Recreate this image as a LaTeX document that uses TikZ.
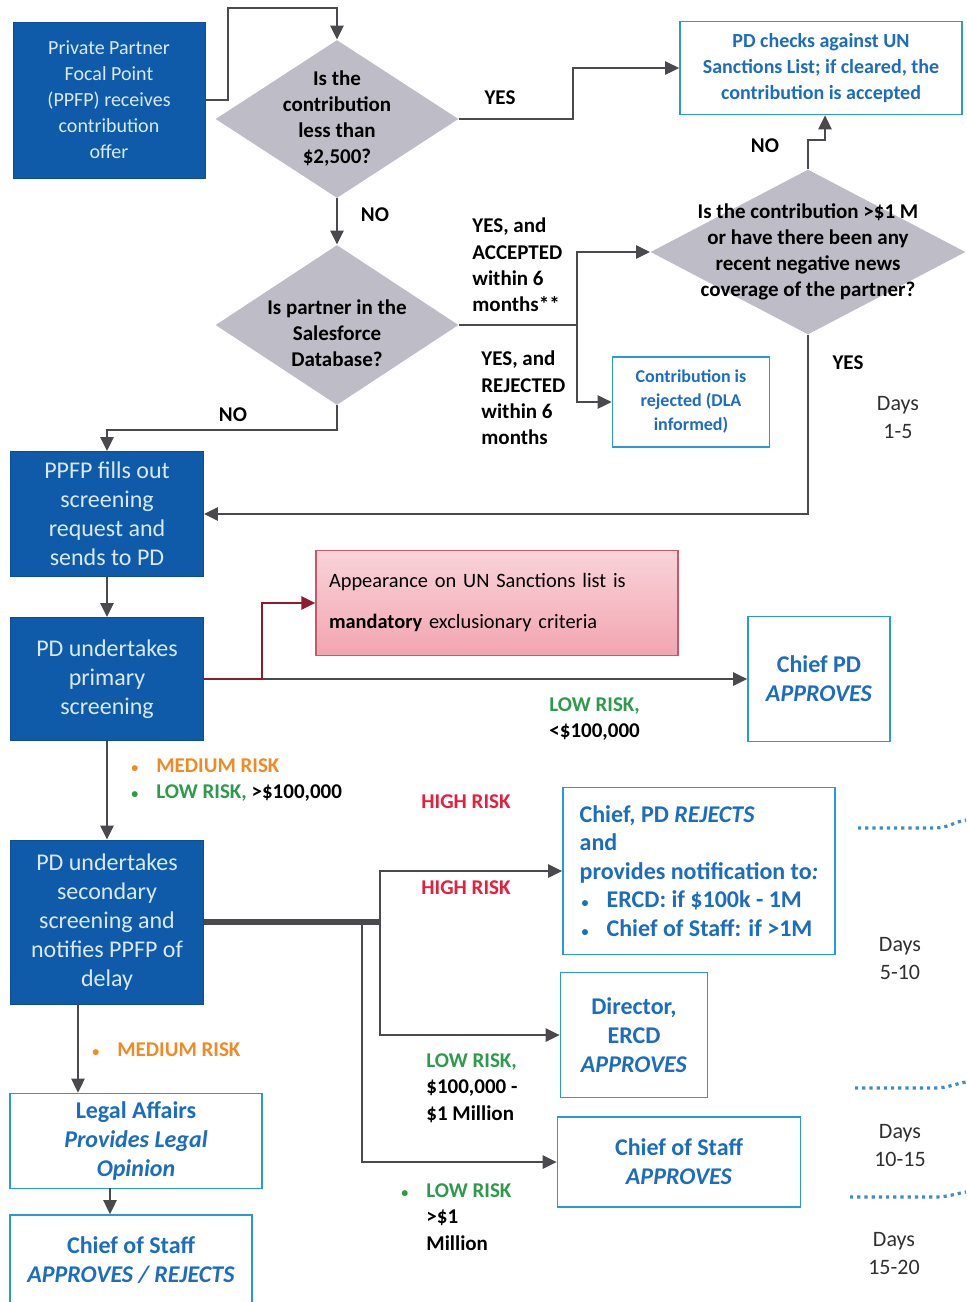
\documentclass[tikz,border=0pt]{standalone}
\usepackage{fontspec}
\setmainfont{Carlito}
\usetikzlibrary{shapes.geometric,arrows.meta}

\definecolor{boxblue}{HTML}{0F5BAA}
\definecolor{boxtext}{HTML}{D8E9F8}
\definecolor{diagray}{HTML}{BEBDC7}
\definecolor{edgecyan}{HTML}{2A9AD6}
\definecolor{textblue}{HTML}{1C6CC0}
\definecolor{linegray}{HTML}{4A4A4E}
\definecolor{darkred}{HTML}{8E1B2E}
\definecolor{pinktop}{HTML}{F9D3D9}
\definecolor{pinkbot}{HTML}{F2A5B1}
\definecolor{pinkedge}{HTML}{C45A69}
\definecolor{riskgreen}{HTML}{2E9A4C}
\definecolor{riskorange}{HTML}{EF8A24}
\definecolor{riskred}{HTML}{E61E3C}
\definecolor{daygray}{HTML}{303030}
\definecolor{dotblue}{HTML}{3E8CC8}

\newcommand{\smallbul}{{\fontsize{7}{7}\selectfont\textbullet}}

\begin{document}
\begin{tikzpicture}[x=0.5pt,y=-0.5pt,
  darkbox/.style={rectangle, fill=boxblue, draw=boxblue!85!black, text=boxtext, align=center,
    font=\fontsize{12}{14.5}\selectfont, inner sep=2pt},
  lightbox/.style={rectangle, fill=white, draw=edgecyan, line width=0.8pt, text=textblue, align=center,
    font=\fontsize{12}{14.5}\selectfont\bfseries, inner sep=2pt},
  pinkbox/.style={rectangle, top color=pinktop, bottom color=pinkbot, draw=pinkedge, line width=0.6pt,
    align=left, text width=168pt, inner xsep=6.5pt, font=\fontsize{10.2}{20.5}\selectfont},
  dia/.style={diamond, fill=diagray, inner sep=0pt},
  diatext/.style={align=center, font=\fontsize{10.5}{13}\selectfont\bfseries},
  lbl/.style={align=left, inner sep=0pt, font=\fontsize{10.5}{13.2}\selectfont\bfseries},
  days/.style={align=center, text=daygray, inner sep=0pt, font=\fontsize{11}{14}\selectfont},
  line/.style={draw=linegray, line width=1.3pt},
  arr/.style={line, -{Triangle[length=7pt,width=6.5pt]}},
  redarr/.style={draw=darkred, line width=1.3pt, -{Triangle[length=7pt,width=6.5pt]}},
  dotline/.style={draw=dotblue, line width=1.6pt, dotted}
  ]
\useasboundingbox (0,0) rectangle (966,1302);

\node[darkbox, minimum width=96pt, minimum height=78pt, font=\fontsize{10}{13}\selectfont] (ppfp) at (109,100)
  {Private Partner\\Focal Point\\(PPFP) receives\\contribution\\offer};
\node[dia, minimum width=121.5pt, minimum height=79pt] (q1) at (337,119) {};
\node[diatext] (q1t) at (q1) {Is the\\contribution\\less than\\\$2,500?};
\node[lightbox, minimum width=141pt, minimum height=46.5pt, font=\fontsize{10}{13}\selectfont\bfseries] (check) at (821,68)
  {PD checks against UN\\Sanctions List; if cleared, the\\contribution is accepted};
\node[dia, minimum width=121.5pt, minimum height=80pt] (q2) at (337,325) {};
\node[diatext] (q2t) at ([yshift=-4pt]q2.center) {Is partner in the\\Salesforce\\Database?};
\node[dia, minimum width=157.5pt, minimum height=82.5pt] (q3) at (808,252) {};
\node[diatext] (q3t) at (q3) {Is the contribution >\$1 M\\or have there been any\\recent negative news\\coverage of the partner?};
\node[lightbox, minimum width=78.5pt, minimum height=45pt, font=\fontsize{9}{12}\selectfont\bfseries] (rej) at (691,402)
  {Contribution is\\rejected (DLA\\informed)};
\node[darkbox, minimum width=96.5pt, minimum height=62.5pt] (fills) at (107,514)
  {PPFP fills out\\screening\\request and\\sends to PD};
\node[darkbox, minimum width=96.5pt, minimum height=61.5pt] (primary) at (107,679)
  {PD undertakes\\primary\\screening};
\node[pinkbox, minimum height=52.5pt] (pink) at (497,603)
  {Appearance on UN Sanctions list is\\\textbf{mandatory} exclusionary criteria};
\node[lightbox, minimum width=71pt, minimum height=62.5pt] (chiefpd) at (819,679)
  {Chief PD\\\textit{APPROVES}};
\node[darkbox, minimum width=96.5pt, minimum height=82pt] (secondary) at (107,922)
  {PD undertakes\\secondary\\screening and\\notifies PPFP of\\delay};
\node[lightbox, minimum width=136pt, minimum height=83.5pt, align=left, font=\fontsize{12}{14.25}\selectfont\bfseries] (rejects) at (699,871)
  {Chief, PD \textit{REJECTS}\\and\\provides notification to\textit{:}\\\hspace{1pt}\smallbul\hspace{9pt}ERCD: if \$100k - 1M\\\hspace{1pt}\smallbul\hspace{9pt}Chief of Staff: if >1M};
\node[lightbox, minimum width=73.5pt, minimum height=62.5pt] (director) at (634,1035)
  {Director,\\ERCD\\\textit{APPROVES}};
\node[lightbox, minimum width=121.5pt, minimum height=45pt] (chiefstaff) at (679,1162)
  {Chief of Staff\\\textit{APPROVES}};
\node[lightbox, minimum width=126pt, minimum height=47.5pt] (legal) at (136,1141)
  {Legal Affairs\\\textit{Provides Legal}\\\textit{Opinion}};
\node[lightbox, minimum width=121pt, minimum height=45pt] (final) at (131,1260)
  {Chief of Staff\\\textit{APPROVES / REJECTS}};

\node[lbl] (yes1) at (500,98) {YES};
\node[lbl] (no1) at (375,215) {NO};
\node[lbl, anchor=west] (acc) at (472,265) {YES, and\\ACCEPTED\\within 6\\months**};
\node[lbl, anchor=west] (rejl) at (481,398) {YES, and\\REJECTED\\within 6\\months};
\node[lbl] (no3) at (765,146) {NO};
\node[lbl] (yes3) at (848,363) {YES};
\node[lbl] (no2) at (233,415) {NO};
\node[days] (d1) at (898,418) {Days\\1-5};
\node[lbl, anchor=west] (low1) at (549,719) {\textcolor{riskgreen}{LOW RISK,}\\<\$100,000};
\node[lbl, anchor=west] (risk1) at (131,780)
  {\textcolor{riskorange}{\smallbul\hspace{9pt}MEDIUM RISK}\\\textcolor{riskgreen}{\smallbul\hspace{9pt}LOW RISK,} >\$100,000};
\node[lbl, text=riskred] (high1) at (466,802) {HIGH RISK};
\node[lbl, text=riskred] (high2) at (466,888) {HIGH RISK};
\node[lbl, anchor=west] (low2) at (426,1088) {\textcolor{riskgreen}{LOW RISK,}\\\$100,000 -\\\$1 Million};
\node[lbl, anchor=west] (low3) at (426,1217)
  {\leavevmode\llap{\textcolor{riskgreen}{\smallbul}\hspace{9pt}}\textcolor{riskgreen}{LOW RISK}\\>\$1\\Million};
\node[lbl, anchor=west] (risk2) at (92,1050) {\textcolor{riskorange}{\smallbul\hspace{9pt}MEDIUM RISK}};
\node[days] (d2) at (900,959) {Days\\5-10};
\node[days] (d3) at (900,1146) {Days\\10-15};
\node[days] (d4) at (894,1254) {Days\\15-20};

\coordinate (c1) at (228,8);
\coordinate (c2) at (573,68);
\coordinate (c3) at (577,325);
\coordinate (c4) at (825,140);
\coordinate (c5) at (107,430);
\coordinate (c6) at (262,603);
\coordinate (c7) at (380,922);
\coordinate (c8) at (362,922);
\coordinate (c9) at (78,1004);
\coordinate (c10) at (110,1188);

\draw[arr] (ppfp.east) -| (c1) -| (q1.north);
\draw[arr] (q1.east) -| (c2) -- (check.west);
\draw[arr] (q1.south) -- (q2.north);
\draw[line] (q2.east) -- (c3);
\draw[arr] (c3) |- (q3.west);
\draw[arr] (c3) |- (rej.west);
\draw[arr] (q3.north) |- (c4) -- (c4 |- check.south);
\draw[arr] (q3.south) |- (fills.east);
\draw[arr] (q2.south) |- (c5) -- (fills.north);
\draw[arr] (fills.south) -- (primary.north);
\draw[arr] (primary.east) -- (chiefpd.west);
\draw[redarr] (primary.east) -| (c6) -- (pink.west);
\draw[arr] (primary.south) -- (secondary.north);
\draw[line, line width=3pt] (secondary.east) -- (c7);
\draw[arr] (c7) |- (rejects.west);
\draw[arr] (c7) |- (director.west);
\draw[arr] (c8) |- (chiefstaff.west);
\draw[arr] (c9) -- (c9 |- legal.north);
\draw[arr] (c10) -- (c10 |- final.north);

\draw[dotline] (858,828) -- (935,828) to[out=0,in=190] (966,820);
\draw[dotline] (855,1088) -- (935,1088) to[out=0,in=190] (966,1082);
\draw[dotline] (850,1197) -- (935,1197) to[out=0,in=190] (966,1192);
\end{tikzpicture}
\end{document}
